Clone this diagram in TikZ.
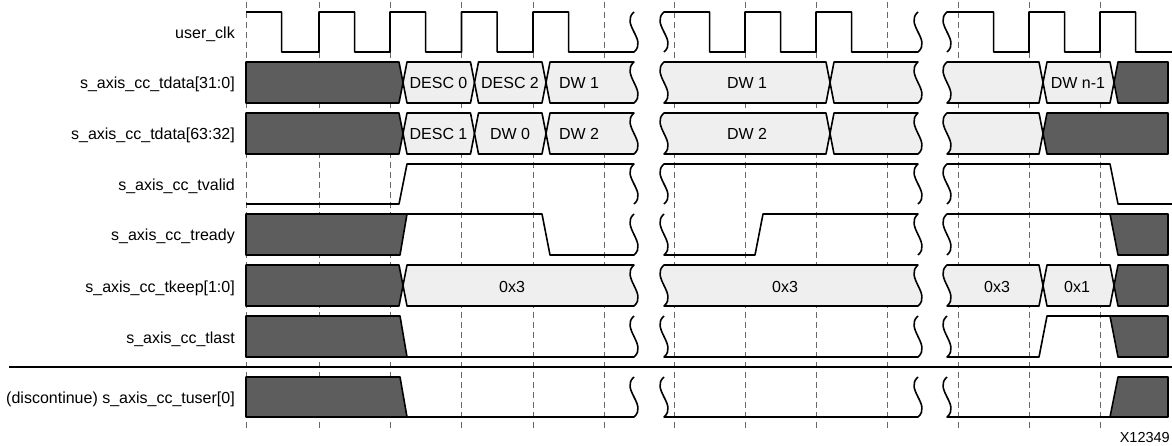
\documentclass[tikz,border=0pt]{standalone}
\usepackage{fontspec}
\setmainfont{Liberation Sans}
\definecolor{darkfill}{RGB}{93,93,93}
\definecolor{lightfill}{RGB}{239,239,239}
\definecolor{gridgray}{RGB}{105,105,105}
\newcommand{\brkdn}[3]{.. controls ({#1-14},{#2+12}) and ({#1+14},{#3-12}) .. (#1,#3)}
\newcommand{\brkup}[3]{.. controls ({#1+14},{#3-12}) and ({#1-14},{#2+12}) .. (#1,#2)}
\newcommand{\xbox}[4]{(#1,{(#3+#4)/2}) -- ({#1+4},#3) -- ({#2-4},#3) -- (#2,{(#3+#4)/2}) -- ({#2-4},#4) -- ({#1+4},#4) -- cycle}
\tikzset{
  wave/.style={line width=1.6pt, line join=round},
  darkbox/.style={wave, fill=darkfill},
  lightbox/.style={wave, fill=lightfill},
  gridline/.style={gridgray, line width=1pt, dash pattern=on 6pt off 4pt},
  siglabel/.style={anchor=base east, inner sep=0pt, font=\fontsize{16}{19}\selectfont},
  vallabel/.style={anchor=base, inner sep=0pt, font=\fontsize{16}{19}\selectfont}
}
\begin{document}
\begin{tikzpicture}[x=1pt, y=-1pt]
\useasboundingbox (0,0) rectangle (1172,446);
\foreach \g in {246,319,390,461.5,533,604,674,745,816,887,958,1029,1100}
  \draw[gridline] (\g,2) -- (\g,430);

\node[siglabel] (clk) at (235,38.5) {user\_clk};
\node[siglabel] (tdlo) at (235,89) {s\_axis\_cc\_tdata[31:0]};
\node[siglabel] (tdhi) at (235,140) {s\_axis\_cc\_tdata[63:32]};
\node[siglabel] (tvalid) at (235,190.5) {s\_axis\_cc\_tvalid};
\node[siglabel] (tready) at (235,241) {s\_axis\_cc\_tready};
\node[siglabel] (tkeep) at (235,292) {s\_axis\_cc\_tkeep[1:0]};
\node[siglabel] (tlast) at (235,343) {s\_axis\_cc\_tlast};
\node[siglabel] (tuser) at (235,403.5) {(discontinue) s\_axis\_cc\_tuser[0]};

\draw[wave] (246,12) -- (281.6,12) -- (281.6,52)
  foreach \r in {319,390,461.5,533} { -- (\r,52) -- (\r,12) -- ({\r+35.6},12) -- ({\r+35.6},52) }
  -- (634,52) \brkup{634}{12}{52};
\draw[wave] (664,52) \brkup{664}{12}{52} -- (709.6,12) -- (709.6,52)
  foreach \r in {745,816} { -- (\r,52) -- (\r,12) -- ({\r+35.6},12) -- ({\r+35.6},52) }
  -- (918,52) \brkup{918}{12}{52};
\draw[wave] (947,52) \brkup{947}{12}{52} -- (993.6,12) -- (993.6,52)
  foreach \r in {1029,1100} { -- (\r,52) -- (\r,12) -- ({\r+35.6},12) -- ({\r+35.6},52) }
  -- (1172,52);

\draw[darkbox] (246,62) -- (399,62) -- (403,82.5) -- (399,103) -- (246,103) -- cycle;
\draw[lightbox] \xbox{403}{474.5}{62}{103};
\draw[lightbox] \xbox{474.5}{546}{62}{103};
\draw[lightbox] (546,82.5) -- (550,62) -- (634,62) \brkdn{634}{62}{103} -- (550,103) -- cycle;
\draw[lightbox] (664,62) -- (826,62) -- (830,82.5) -- (826,103) -- (664,103) \brkup{664}{62}{103} -- cycle;
\draw[lightbox] (830,82.5) -- (834,62) -- (918,62) \brkdn{918}{62}{103} -- (834,103) -- cycle;
\draw[lightbox] (947,62) -- (1039,62) -- (1043,82.5) -- (1039,103) -- (947,103) \brkup{947}{62}{103} -- cycle;
\draw[lightbox] \xbox{1043}{1114}{62}{103};
\draw[darkbox] (1114,82.5) -- (1118,62) -- (1168,62) -- (1168,103) -- (1118,103) -- cycle;
\node[vallabel] (desc0) at (438.5,89) {DESC 0};
\node[vallabel] (desc2) at (510,89) {DESC 2};
\node[vallabel] (dw1a) at (579,89) {DW 1};
\node[vallabel] (dw1b) at (747,89) {DW 1};
\node[vallabel] (dwn) at (1078,89) {DW n-1};

\draw[darkbox] (246,113) -- (399,113) -- (403,133.5) -- (399,154) -- (246,154) -- cycle;
\draw[lightbox] \xbox{403}{474.5}{113}{154};
\draw[lightbox] \xbox{474.5}{546}{113}{154};
\draw[lightbox] (546,133.5) -- (550,113) -- (634,113) \brkdn{634}{113}{154} -- (550,154) -- cycle;
\draw[lightbox] (664,113) -- (826,113) -- (830,133.5) -- (826,154) -- (664,154) \brkup{664}{113}{154} -- cycle;
\draw[lightbox] (830,133.5) -- (834,113) -- (918,113) \brkdn{918}{113}{154} -- (834,154) -- cycle;
\draw[lightbox] (947,113) -- (1039,113) -- (1043,133.5) -- (1039,154) -- (947,154) \brkup{947}{113}{154} -- cycle;
\draw[darkbox] (1043,133.5) -- (1047,113) -- (1168,113) -- (1168,154) -- (1047,154) -- cycle;
\node[vallabel] (desc1) at (438.5,140) {DESC 1};
\node[vallabel] (dw0) at (510,140) {DW 0};
\node[vallabel] (dw2a) at (579,140) {DW 2};
\node[vallabel] (dw2b) at (747,140) {DW 2};

\draw[wave] (246,204) -- (399,204) -- (407,164) -- (634,164) \brkdn{634}{164}{204};
\draw[wave] (664,204) \brkup{664}{164}{204} -- (918,164) \brkdn{918}{164}{204};
\draw[wave] (947,204) \brkup{947}{164}{204} -- (1110,164) -- (1118,204) -- (1172,204);

\draw[darkbox] (246,214) -- (407,214) -- (400,255) -- (246,255) -- cycle;
\draw[wave] (407,214) -- (542,214) -- (550,255) -- (634,255) \brkup{634}{214}{255};
\draw[wave] (664,214) \brkdn{664}{214}{255} -- (755,255) -- (763,214) -- (918,214) \brkdn{918}{214}{255};
\draw[wave] (947,255) \brkup{947}{214}{255} -- (1110,214);
\draw[darkbox] (1110,214) -- (1168,214) -- (1168,255) -- (1118,255) -- cycle;

\draw[darkbox] (246,265) -- (399,265) -- (403,285.5) -- (399,306) -- (246,306) -- cycle;
\draw[lightbox] (403,285.5) -- (407,265) -- (634,265) \brkdn{634}{265}{306} -- (407,306) -- cycle;
\draw[lightbox] (664,265) -- (918,265) \brkdn{918}{265}{306} -- (664,306) \brkup{664}{265}{306} -- cycle;
\draw[lightbox] (947,265) -- (1039,265) -- (1043,285.5) -- (1039,306) -- (947,306) \brkup{947}{265}{306} -- cycle;
\draw[lightbox] \xbox{1043}{1114}{265}{306};
\draw[darkbox] (1114,285.5) -- (1118,265) -- (1168,265) -- (1168,306) -- (1118,306) -- cycle;
\node[vallabel] (keep3a) at (512,292) {0x3};
\node[vallabel] (keep3b) at (785,292) {0x3};
\node[vallabel] (keep3c) at (997,292) {0x3};
\node[vallabel] (keep1) at (1077,292) {0x1};

\draw[darkbox] (246,316) -- (400,316) -- (407,357) -- (246,357) -- cycle;
\draw[wave] (407,357) -- (634,357) \brkup{634}{316}{357};
\draw[wave] (664,316) \brkdn{664}{316}{357} -- (918,357) \brkup{918}{316}{357};
\draw[wave] (947,316) \brkdn{947}{316}{357} -- (1039,357) -- (1047,316) -- (1110,316);
\draw[darkbox] (1110,316) -- (1168,316) -- (1168,357) -- (1118,357) -- cycle;

\draw[line width=1.6pt] (9,367) -- (1172,367);

\draw[darkbox] (246,377) -- (400,377) -- (407,417) -- (246,417) -- cycle;
\draw[wave] (407,417) -- (634,417) \brkup{634}{377}{417};
\draw[wave] (664,377) \brkdn{664}{377}{417} -- (918,417) \brkup{918}{377}{417};
\draw[wave] (947,377) \brkdn{947}{377}{417} -- (1110,417);
\draw[darkbox] (1110,417) -- (1118,377) -- (1168,377) -- (1168,417) -- cycle;

\node[anchor=base east, inner sep=0pt, font=\fontsize{14.5}{17}\selectfont] (fig) at (1170,442) {X12349};
\end{tikzpicture}
\end{document}
